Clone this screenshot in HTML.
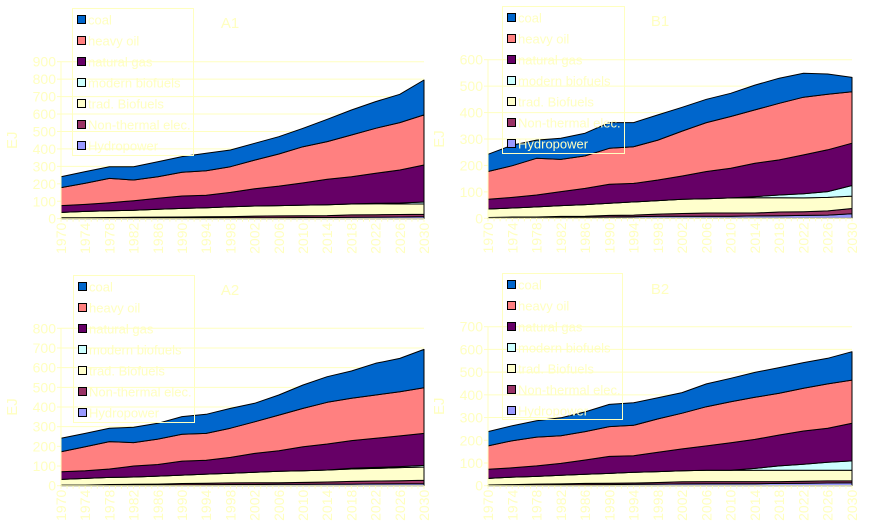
<!DOCTYPE html>
<html><head><meta charset="utf-8">
<style>
html,body{margin:0;padding:0;background:#fff;}
svg{display:block;font-family:"Liberation Sans",sans-serif;}
</style></head>
<body>
<svg id="chart" width="870" height="531" viewBox="0 0 870 531" xmlns="http://www.w3.org/2000/svg"></svg>
<script>
const years = [1970,1974,1978,1982,1986,1990,1994,1998,2002,2006,2010,2014,2018,2022,2026,2030];
const seriesNames = ["Hydropower","Non-thermal elec.","trad. Biofuels","modern biofuels","natural gas","heavy oil","coal"];
const seriesColors = ["#9999ff","#993366","#ffffcc","#ccffff","#660066","#ff8080","#0066cc"];

const a1Hydro = [3,3,4,4,4,5,5,6,6,6,7,7,8,9,10,12];
const a1Nonth = [2,3,3,4,5,5,6,6,9,10,10,11,14,14,14,13];
const a1Trad  = [31,36,39,40,45,49,52,57,58,59,61,62,62,63,60,59];
const a1Mod   = [0,0,0,0,0,0,0,0,0,0,0,0,1,2,6,12];
const a1Gas   = [39,40,46,55,63,71,71,82,99,112,127,146,156,172,189,212];
const a1Oil   = [103,121,139,119,124,136,141,147,164,184,208,216,239,258,272,287];
const a1Coal  = [63,67,67,76,86,90,100,96,96,99,105,128,143,153,162,200];

const b1Hydro = [1,2,3,4,4,5,6,8,8,8,8,9,10,11,12,17];
const b1Nonth = [2,3,2,3,4,6,6,8,10,12,12,11,14,14,16,20];
const b1Trad  = [32,34,38,41,44,46,50,51,54,54,57,58,54,52,51,47];
const b1Mod   = [0,0,0,0,0,0,0,0,0,0,0,4,10,16,22,40];
const b1Gas   = [37,40,45,53,61,72,70,78,88,103,112,126,133,147,158,160];
const b1Oil   = [105,120,139,122,123,136,139,151,170,185,196,202,214,218,210,195];
const b1Coal  = [65,78,69,80,86,97,91,95,90,88,88,94,95,91,77,54];

const a2Hydro = [1,1,2,3,3,4,5,6,6,7,7,8,8,9,10,10];
const a2Nonth = [2,2,4,4,5,7,7,8,9,8,10,11,14,15,15,18];
const a2Trad  = [29,34,36,37,41,43,47,49,53,58,59,61,63,64,67,67];
const a2Mod   = [0,0,0,0,0,0,0,0,0,0,0,0,4,5,5,8];
const a2Gas   = [39,39,43,56,59,71,70,81,96,105,122,132,140,148,156,163];
const a2Oil   = [102,122,139,119,129,136,137,148,161,181,195,212,215,220,225,232];
const a2Coal  = [68,68,68,78,80,90,97,101,94,102,119,130,139,161,169,195];

const b2Hydro = [1,2,2,3,4,5,6,7,8,9,9,9,10,11,12,13];
const b2Nonth = [2,3,5,5,6,6,6,7,9,9,9,9,8,9,9,9];
const b2Trad  = [29,33,34,38,40,43,47,48,49,50,50,50,50,48,47,46];
const b2Mod   = [0,0,0,0,0,0,0,0,0,0,0,8,19,26,35,41];
const b2Gas   = [40,41,46,52,63,75,73,85,96,107,121,128,136,147,150,166];
const b2Oil   = [103,119,127,122,125,131,134,147,157,173,181,185,184,188,195,190];
const b2Coal  = [63,66,72,79,87,98,99,93,91,100,103,110,113,113,113,125];

const panels = [
  {id:"a1", title:"A1", yMax:900, series:[a1Hydro,a1Nonth,a1Trad,a1Mod,a1Gas,a1Oil,a1Coal],
   x0:61, x1:424, yTop:61.7, yBot:218.7, leg:[72,8,121,147], tx:230, ty:28},
  {id:"b1", title:"B1", yMax:600, series:[b1Hydro,b1Nonth,b1Trad,b1Mod,b1Gas,b1Oil,b1Coal],
   x0:488, x1:852, yTop:59.7, yBot:218.3, leg:[502,6,122,147], tx:660, ty:26},
  {id:"a2", title:"A2", yMax:800, series:[a2Hydro,a2Nonth,a2Trad,a2Mod,a2Gas,a2Oil,a2Coal],
   x0:61, x1:424, yTop:328.3, yBot:485.7, leg:[73,275,121,147], tx:230, ty:295},
  {id:"b2", title:"B2", yMax:700, series:[b2Hydro,b2Nonth,b2Trad,b2Mod,b2Gas,b2Oil,b2Coal],
   x0:488, x1:852, yTop:326.7, yBot:485.7, leg:[502,273,120,146], tx:660, ty:294}
];

const NS = "http://www.w3.org/2000/svg";
const svg = document.getElementById("chart");
const TXT = "#ffffc0";
function mk(tag, attrs, parent){
  const e = document.createElementNS(NS, tag);
  for (const k in attrs) e.setAttribute(k, attrs[k]);
  (parent||svg).appendChild(e);
  return e;
}

panels.forEach(p => {
  const g = mk("g", {});
  
  
  const xS = yr => p.x0 + (yr - 1970) / 60 * (p.x1 - p.x0);
  const yS = v => p.yBot - v / p.yMax * (p.yBot - p.yTop);

  // gridlines + y ticks
  for (let v = 0; v <= p.yMax; v += 100) {
    const y = yS(v);
    if (v > 0) {
      const gl = mk("line", {x1:p.x0, x2:p.x1, y1:y, y2:y, stroke:"#ffffc0", "stroke-width":1}, g);
      
      
    }
    mk("line", {x1:p.x0-4, x2:p.x0, y1:y, y2:y, stroke:"#ffffc0"}, g);
    const t = mk("text", {x:p.x0-5, y:y+5, "text-anchor":"end", "font-size":14, fill:TXT}, g);
    
    
    t.textContent = v;
  }

  // stacked areas
  const cum = years.map(() => 0);
  p.series.forEach((s, si) => {
    const lower = cum.slice();
    s.forEach((v, i) => cum[i] += v);
    let d = "";
    years.forEach((yr, i) => { d += (i ? "L" : "M") + xS(yr).toFixed(1) + "," + yS(cum[i]).toFixed(1); });
    for (let i = years.length - 1; i >= 0; i--) d += "L" + xS(years[i]).toFixed(1) + "," + yS(lower[i]).toFixed(1);
    d += "Z";
    const path = mk("path", {d:d, fill:seriesColors[si], stroke:"#000", "stroke-width":1, "stroke-linejoin":"round"}, g);
    
    
  });

  // axes
  mk("line", {x1:p.x0, x2:p.x0, y1:p.yTop, y2:p.yBot, stroke:"#ffffc0"}, g);
  mk("line", {x1:p.x0, x2:p.x1, y1:p.yBot, y2:p.yBot, stroke:"#ffffc0"}, g);
  for (let yr = 1970; yr <= 2030; yr++) {
    const x = xS(yr);
    mk("line", {x1:x, x2:x, y1:p.yBot, y2:p.yBot+3, stroke:"#ffffc0"}, g);
  }
  years.forEach(yr => {
    const x = xS(yr);
    const t = mk("text", {x:0, y:0, transform:`translate(${x+5},${p.yBot+4}) rotate(-90)`, "text-anchor":"end", "font-size":14, fill:TXT}, g);
    
    
    t.textContent = yr;
  });

  // y axis title
  const ey = (p.yTop + p.yBot) / 2;
  const yt = mk("text", {x:0, y:0, transform:`translate(${p.x0-44},${ey}) rotate(-90)`, "text-anchor":"middle", "font-size":15, fill:TXT}, g);
  
  
  yt.textContent = "EJ";

  // title
  const tt = mk("text", {x:p.tx, y:p.ty, "text-anchor":"middle", "font-size":15, fill:TXT}, g);
  
  
  tt.textContent = p.title;

  // legend
  const [lx, ly, lw, lh] = p.leg;
  const lg = mk("g", {}, g);
  
  
  mk("rect", {x:lx+0.5, y:ly+0.5, width:lw, height:lh, fill:"none", stroke:"#ffffc0"}, lg);
  for (let k = 0; k < 7; k++) {
    const si = 6 - k;
    const cy = ly + 12 + k * 21;
    const e = mk("g", {}, lg);
    
    
    mk("rect", {x:lx+5.5, y:cy-4.5, width:8, height:8, fill:seriesColors[si], stroke:"#000", "stroke-width":1}, e);
    const lt = mk("text", {x:lx+16, y:cy+4.5, "font-size":13, fill:TXT}, e);
    lt.textContent = seriesNames[si];
  }
});
</script>
</body></html>
